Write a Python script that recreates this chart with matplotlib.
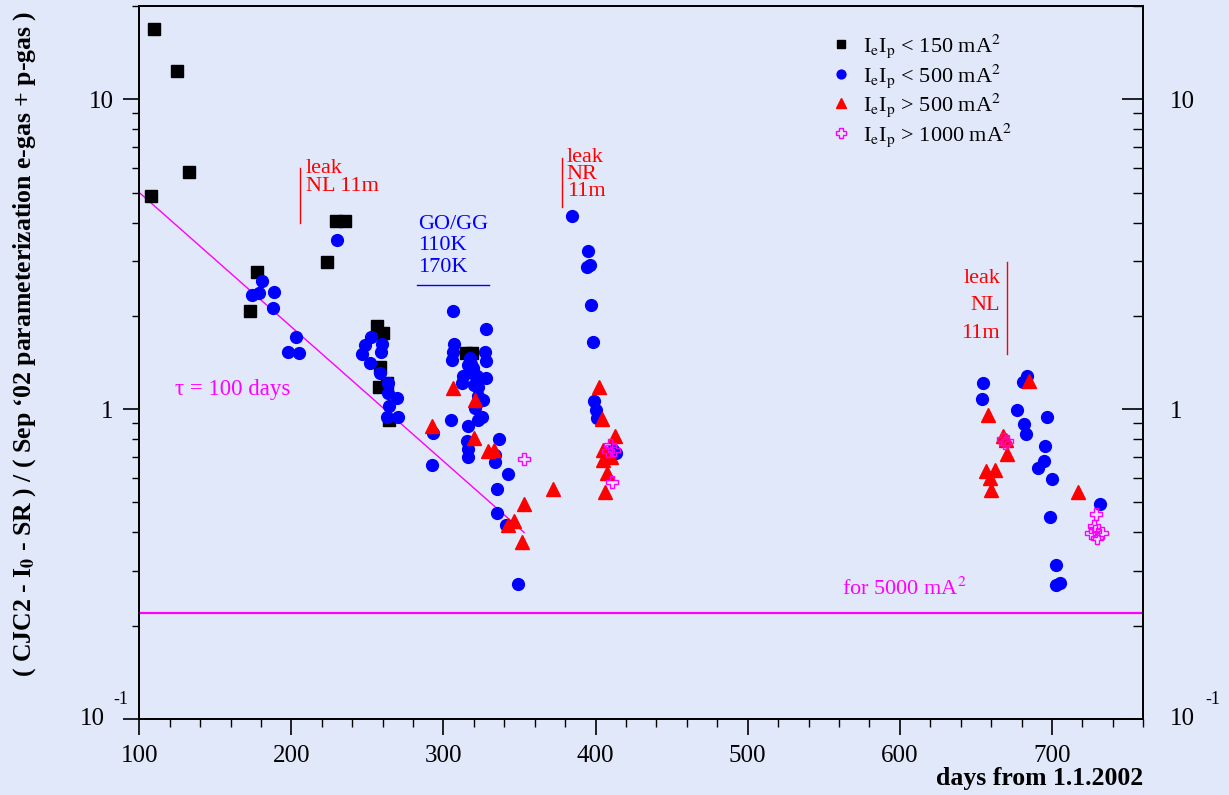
import matplotlib.pyplot as plt
from matplotlib.ticker import FixedLocator, FixedFormatter, MultipleLocator, LogLocator, NullFormatter

BG = '#e1e8fa'
MAGENTA = '#ff00ff'

# I_e*I_p < 150 mA^2
LOW_DAYS = [107.7, 109.9, 124.6, 132.5, 172.8, 177.6, 223.4, 229.3, 235.3, 256.4, 257.7,
            258.3, 260.3, 262.9, 264.0, 314.5, 318.5]
LOW_VALS = [4.87, 16.8, 12.37, 5.84, 2.07, 2.78, 2.98, 4.05, 4.05, 1.86, 1.18,
            1.37, 1.76, 1.21, 0.92, 1.52, 1.52]

# I_e*I_p < 500 mA^2
MID_DAYS = [173.9, 178.9, 180.5, 188.6, 187.7, 197.6, 203.0, 205.2, 230.2,
            246.3, 248.4, 251.7, 252.2, 258.3, 258.9, 259.4, 262.7, 263.4, 263.8, 264.4, 269.3, 270.3,
            292.3, 293.0, 304.8, 305.8, 306.3, 306.5, 307.0, 312.0, 313.0, 315.7, 316.0, 316.0, 316.4,
            316.4, 317.5, 318.6, 320.8, 321.9, 323.0, 323.0, 325.6, 325.8, 327.3, 327.8, 327.8, 327.8,
            333.9, 333.9, 335.0, 335.4, 336.4, 341.2, 342.3, 349.2, 318.0, 320.0, 322.5, 319.5,
            384.8, 394.2, 395.3, 396.0, 397.0, 398.2, 399.0, 400.1, 401.2, 411.3, 413.5,
            654.2, 654.7, 677.2, 681.0, 681.6, 683.0, 683.6, 690.6, 694.5, 695.4, 697.0, 698.4,
            700.0, 702.9, 702.9, 705.0, 731.9]
MID_VALS = [2.34, 2.37, 2.59, 2.38, 2.12, 1.53, 1.71, 1.52, 3.52,
            1.51, 1.61, 1.41, 1.71, 1.31, 1.53, 1.62, 0.946, 1.21, 1.13, 1.02, 1.09, 0.946,
            0.658, 0.84, 0.919, 1.44, 2.07, 1.53, 1.62, 1.21, 1.28, 0.792, 0.883, 0.743, 0.703,
            1.39, 1.46, 1.31, 1.01, 1.28, 1.18, 0.924, 0.942, 1.07, 1.53, 1.43, 1.82, 1.26,
            0.713, 0.673, 0.462, 0.552, 0.802, 0.424, 0.617, 0.272, 1.40, 1.20, 1.10, 1.36,
            4.21, 2.88, 3.25, 2.92, 2.16, 1.65, 1.06, 0.99, 0.935, 0.74, 0.721,
            1.08, 1.21, 0.993, 1.22, 0.897, 0.832, 1.28, 0.645, 0.681, 0.762, 0.946, 0.45,
            0.596, 0.315, 0.27, 0.275, 0.494]

# I_e*I_p > 500 mA^2
HIGH_DAYS = [292.5, 306.1, 320.1, 320.8, 329.5, 333.5, 342.7, 346.4, 351.5, 353.2, 372.3,
             402.1, 404.1, 404.7, 405.1, 406.3, 407.4, 410.2, 413.0,
             656.6, 657.9, 659.5, 660.1, 662.5, 667.8, 669.8, 670.6, 684.6, 717.1]
HIGH_VALS = [0.879, 1.17, 0.806, 1.07, 0.73, 0.74, 0.423, 0.434, 0.372, 0.494, 0.552,
             1.18, 0.929, 0.686, 0.74, 0.542, 0.622, 0.703, 0.82,
             0.631, 0.954, 0.599, 0.55, 0.637, 0.817, 0.797, 0.718, 1.23, 0.542]

# I_e*I_p > 1000 mA^2
TOP_DAYS = [353.2, 408.4, 409.6, 412.2, 410.6, 667.8, 670.4, 669.0,
            725.7, 727.4, 728.5, 728.7, 729.6, 732.9]
TOP_VALS = [0.69, 0.73, 0.767, 0.74, 0.584, 0.80, 0.79, 0.775,
            0.398, 0.42, 0.403, 0.458, 0.384, 0.398]

# exponential decay with tau = 100 days, and the level expected for 5000 mA^2
FIT_DAYS = [100, 353]
FIT_VALS = [5.0, 0.40]
LEVEL_5000 = 0.22

plt.rcParams['font.family'] = ['Liberation Serif', 'DejaVu Serif']
plt.rcParams['mathtext.fontset'] = 'stix'

fig = plt.figure(figsize=(12.29, 7.95), dpi=100, facecolor=BG)
ax = fig.add_axes([0.1133, 0.0956, 0.8169, 0.8969])
ax.set_facecolor(BG)
ax.set_yscale('log')
ax.set_xlim(100, 760)
ax.set_ylim(0.1, 20)

ax.plot(FIT_DAYS, FIT_VALS, color=MAGENTA, lw=1, zorder=2)
ax.axhline(LEVEL_5000, color=MAGENTA, lw=1.6, zorder=2)

ax.plot(LOW_DAYS, LOW_VALS, 's', color='black', ms=8.5, zorder=3,
        label=r'I$_{\rm e}$I$_{\rm p}$ < 150 mA$^2$')
ax.plot(MID_DAYS, MID_VALS, 'o', color='#0000ff', ms=8.5, zorder=4,
        label=r'I$_{\rm e}$I$_{\rm p}$ < 500 mA$^2$')
ax.plot(HIGH_DAYS, HIGH_VALS, '^', color='#ff0000', ms=9.5, zorder=5,
        label=r'I$_{\rm e}$I$_{\rm p}$ > 500 mA$^2$')
ax.plot(TOP_DAYS, TOP_VALS, 'P', mfc='none', mec=MAGENTA, mew=1, ms=9, zorder=6,
        label=r'I$_{\rm e}$I$_{\rm p}$ > 1000 mA$^2$')

ax.legend(loc='upper left', bbox_to_anchor=(0.679, 0.975), frameon=False, fontsize=16,
          handlelength=1.0, handletextpad=0.5, labelspacing=0.08, markerscale=0.75,
          borderaxespad=0)

# annotations
ax.plot([205.8, 205.8], [4.0, 6.0], color='red', lw=1)
ax.text(209.5, 6.4, 'leak\nNL 11m', color='red', fontsize=16, va='top', ha='left',
        linespacing=0.94)
ax.plot([378.2, 378.2], [4.5, 6.45], color='red', lw=1)
ax.text(381.0, 6.95, 'leak\nNR\n11m', color='red', fontsize=16, va='top', ha='left',
        linespacing=0.84)
ax.plot([670.4, 670.4], [1.51, 2.99], color='red', lw=1)
ax.text(666.0, 2.84, 'leak\nNL\n11m', color='red', fontsize=16, va='top', ha='right',
        linespacing=1.63)
ax.text(283.2, 4.24, 'GO/GG\n110K\n170K', color='#0000ff', fontsize=16, va='top', ha='left',
        linespacing=1.18)
ax.plot([282.6, 329.9], [2.51, 2.51], color='#0000ff', lw=1)
ax.text(123.5, 1.154, 'τ = 100 days', color=MAGENTA, fontsize=16.5, va='center', ha='left')
ax.text(562.0, 0.243, r'for 5000 mA$^2$', color=MAGENTA, fontsize=16, va='bottom', ha='left')

# axes and ticks
for sp in ax.spines.values():
    sp.set_linewidth(1.3)

ax.set_xticks([100, 200, 300, 400, 500, 600, 700])
ax.xaxis.set_minor_locator(MultipleLocator(20))
ax.tick_params(axis='x', which='major', direction='out', length=11.5, width=1.2,
               labelsize=18, pad=7, top=False)
ax.tick_params(axis='x', which='minor', direction='out', length=6, width=1, top=False)

# the 10^-1 labels are drawn separately below, with a raised exponent
ylabels = ['', '1', '10']
ax.yaxis.set_major_locator(FixedLocator([0.1, 1, 10]))
ax.yaxis.set_major_formatter(FixedFormatter(ylabels))
ax.yaxis.set_minor_locator(LogLocator(base=10, subs=range(2, 10)))
ax.yaxis.set_minor_formatter(NullFormatter())
ax.tick_params(axis='y', which='major', direction='out', length=11.5, width=1.2,
               labelsize=18, pad=7, right=False)
ax.tick_params(axis='y', which='minor', direction='out', length=5, width=1, right=False)

ax2 = ax.twinx()
ax2.set_yscale('log')
ax2.set_ylim(0.1, 20)
ax2.yaxis.set_major_locator(FixedLocator([0.1, 1, 10]))
ax2.yaxis.set_major_formatter(FixedFormatter(ylabels))
ax2.yaxis.set_minor_locator(LogLocator(base=10, subs=range(2, 10)))
ax2.yaxis.set_minor_formatter(NullFormatter())
ax2.tick_params(axis='y', which='major', direction='in', length=15, width=1.2,
                labelsize=18, pad=19)
ax2.tick_params(axis='y', which='minor', direction='in', length=7, width=1)
for sp in ax2.spines.values():
    sp.set_linewidth(1.3)

ytr = ax.get_yaxis_transform()
for xa, dx_base, dx_exp, ha in [(0, -25, -8, 'right'), (1, 19.5, 44.5, 'left')]:
    ax.annotate('10', xy=(xa, 0.1), xycoords=ytr, xytext=(dx_base, 0),
                textcoords='offset points', ha=ha, va='center', fontsize=18,
                annotation_clip=False)
    ax.annotate('-1', xy=(xa, 0.1), xycoords=ytr, xytext=(dx_exp, 14),
                textcoords='offset points', ha=ha, va='center', fontsize=13,
                annotation_clip=False)

fig.text(0.020, 0.567,
         r"( CJC2 - I$_\mathbf{0}$ - SR ) / ( Sep ‘02 parameterization e-gas + p-gas )",
         rotation=90, ha='center', va='center', fontsize=18.5, fontweight='bold')
fig.text(0.930, 0.021, 'days from 1.1.2002', ha='right', va='center',
         fontsize=18.5, fontweight='bold')

fig.savefig('out.png', dpi=100, facecolor=BG)
